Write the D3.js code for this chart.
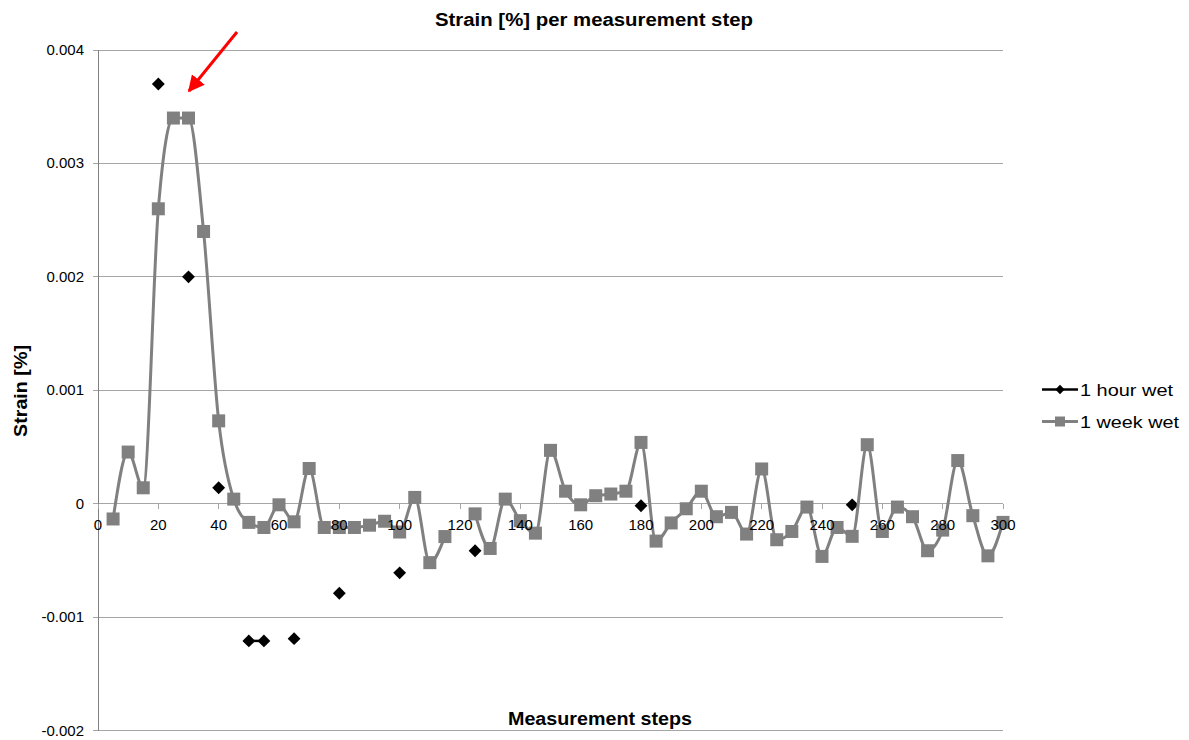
<!DOCTYPE html>
<html><head><meta charset="utf-8">
<script src="https://cdn.jsdelivr.net/npm/d3@7"></script>
<style>body{margin:0;background:#fff}svg{display:block}text{font-family:"Liberation Sans",Arial,sans-serif}</style>
</head><body><svg id="c" width="1189" height="740"></svg>
<script>
const weekSteps = [5,10,15,20,25,30,35,40,45,50,55,60,65,70,75,80,85,90,95,100,105,110,115,120,125,130,135,140,145,150,155,160,165,170,175,180,185,190,195,200,205,210,215,220,225,230,235,240,245,250,255,260,265,270,275,280,285,290,295,300];
const weekValues = [-0.000135,0.000455,0.00014,0.0026,0.0034,0.0034,0.0024,0.00073,0.00004,-0.000165,-0.00021,-0.00001,-0.00016,0.00031,-0.00021,-0.00021,-0.00021,-0.00019,-0.000155,-0.00025,0.000055,-0.00052,-0.00029,null,-0.00009,-0.000395,0.00004,-0.00015,-0.00026,0.00047,0.00011,-0.00001,0.00007,0.000085,0.00011,0.00054,-0.00033,-0.00017,-0.000045,0.00011,-0.000115,-0.000077,-0.000268,0.000306,-0.000318,-0.000245,-0.00003,-0.000465,-0.00021,-0.000288,0.00052,-0.000245,-0.00003,-0.000115,-0.000415,-0.000233,0.00038,-0.000106,-0.00046,-0.000165];
const hourSteps = [20,30,40,50,55,65,80,100,125,180,250];
const hourValues = [0.0037,0.002,0.00014,-0.00121,-0.00121,-0.00119,-0.00079,-0.00061,-0.000415,-0.000018,-0.00001];
const xTicks = [0,20,40,60,80,100,120,140,160,180,200,220,240,260,280,300];
const yTicks = [-0.002,-0.001,0,0.001,0.002,0.003,0.004];
const yTickLabels = ["-0.002","-0.001","0","0.001","0.002","0.003","0.004"];
const seriesNames = ["1 hour wet","1 week wet"];
const title = "Strain [%] per measurement step";
const xTitle = "Measurement steps";
const yTitle = "Strain [%]";

const svg = d3.select("#c");
const x = d3.scaleLinear().domain([0,300]).range([98,1003]);
const y = d3.scaleLinear().domain([-0.002,0.004]).range([730.5,50]);
const gridC = "#a6a6a6", grayC = "#808080";

// gridlines
svg.append("g").selectAll("line").data(yTicks).join("line")
  .attr("x1",93).attr("x2",1003).attr("y1",d=>y(d)).attr("y2",d=>y(d))
  .attr("stroke",gridC).attr("stroke-width",1).attr("shape-rendering","crispEdges");
// left axis line
svg.append("line").attr("x1",98).attr("x2",98).attr("y1",y(0.004)).attr("y2",y(-0.002))
  .attr("stroke",grayC).attr("stroke-width",1).attr("shape-rendering","crispEdges");
// x ticks on zero line
svg.append("g").selectAll("line").data(xTicks).join("line")
  .attr("x1",d=>x(d)).attr("x2",d=>x(d)).attr("y1",y(0)).attr("y2",y(0)+5)
  .attr("stroke",gridC).attr("shape-rendering","crispEdges");
// y tick labels
svg.append("g").selectAll("text").data(yTicks).join("text")
  .attr("x",84).attr("y",d=>y(d)+5).attr("text-anchor","end")
  .attr("font-size",15).attr("fill","#000").text((d,i)=>yTickLabels[i]);

// hour series (drawn first)
const hourData = hourSteps.map((s,i)=>({s,v:hourValues[i]}));
const hourFull = d3.range(5,301,5).map(s=>{const f=hourData.find(d=>d.s===s);return {s,v:f?f.v:null};});
svg.append("path").datum(hourFull)
  .attr("d",d3.line().defined(d=>d.v!==null).x(d=>x(d.s)).y(d=>y(d.v)))
  .attr("fill","none").attr("stroke","#000").attr("stroke-width",2.5);
const diamond = d3.symbol().type(d3.symbolDiamond2).size(105);
svg.append("g").selectAll("path").data(hourData).join("path")
  .attr("d",diamond).attr("transform",d=>`translate(${x(d.s)},${y(d.v)})`).attr("fill","#000");

// week series
const weekData = weekSteps.map((s,i)=>({s,v:weekValues[i]}));
svg.append("path").datum(weekData)
  .attr("d",d3.line().defined(d=>d.v!==null).x(d=>x(d.s)).y(d=>y(d.v)).curve(d3.curveMonotoneX))
  .attr("fill","none").attr("stroke",grayC).attr("stroke-width",3);
svg.append("g").selectAll("rect").data(weekData.filter(d=>d.v!==null)).join("rect")
  .attr("x",d=>x(d.s)-6.5).attr("y",d=>y(d.v)-6.5).attr("width",13).attr("height",13)
  .attr("fill",grayC);

// x tick labels on top
svg.append("g").selectAll("text").data(xTicks).join("text")
  .attr("x",d=>x(d)).attr("y",y(0)+26).attr("text-anchor","middle")
  .attr("font-size",15).attr("fill","#000").text(d=>d);

// titles
svg.append("text").attr("x",435).attr("y",26).attr("font-size",18).attr("font-weight","bold")
  .attr("textLength",318).attr("lengthAdjust","spacingAndGlyphs").text(title);
svg.append("text").attr("x",508).attr("y",725).attr("font-size",18).attr("font-weight","bold")
  .attr("textLength",184).attr("lengthAdjust","spacingAndGlyphs").text(xTitle);
svg.append("text").attr("transform","translate(27,437) rotate(-90)")
  .attr("font-size",18).attr("font-weight","bold")
  .attr("textLength",92).attr("lengthAdjust","spacingAndGlyphs").text(yTitle);

// legend
const lg = svg.append("g");
const legY = [389.5,421.5];
lg.append("line").attr("x1",1042).attr("x2",1078).attr("y1",legY[0]).attr("y2",legY[0]).attr("stroke","#000").attr("stroke-width",2.5);
lg.append("path").attr("d",d3.symbol().type(d3.symbolDiamond2).size(55)).attr("transform",`translate(1060,${legY[0]})`).attr("fill","#000");
lg.append("line").attr("x1",1042).attr("x2",1078).attr("y1",legY[1]).attr("y2",legY[1]).attr("stroke",grayC).attr("stroke-width",3);
lg.append("rect").attr("x",1055).attr("y",legY[1]-5).attr("width",10).attr("height",10).attr("fill",grayC);
lg.append("text").attr("x",1080).attr("y",legY[0]+6).attr("font-size",17).attr("textLength",93).attr("lengthAdjust","spacingAndGlyphs").text(seriesNames[0]);
lg.append("text").attr("x",1080).attr("y",legY[1]+6).attr("font-size",17).attr("textLength",99).attr("lengthAdjust","spacingAndGlyphs").text(seriesNames[1]);

// red arrow annotation
const defs = svg.append("defs");
defs.append("marker").attr("id","ah").attr("viewBox","0 0 10 10").attr("refX",9).attr("refY",5)
  .attr("markerWidth",5.5).attr("markerHeight",5.5).attr("orient","auto").attr("markerUnits","strokeWidth")
  .append("path").attr("d","M0,0L10,5L0,10z").attr("fill","#ff0000");
svg.append("line").attr("x1",237).attr("y1",32).attr("x2",189).attr("y2",91)
  .attr("stroke","#ff0000").attr("stroke-width",3).attr("marker-end","url(#ah)");
</script></body></html>
